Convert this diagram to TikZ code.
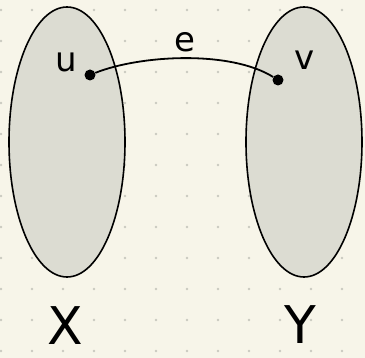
\documentclass[tikz,border=0pt]{standalone}
\usepackage{fontspec}
\setmainfont{DejaVu Sans}
\usetikzlibrary{shapes.geometric}
\definecolor{paper}{HTML}{F7F5E9}
\definecolor{setfill}{HTML}{DCDCD2}
\definecolor{griddot}{HTML}{C9C9C0}
\tikzset{
  setshape/.style={ellipse, draw=black, fill=setfill, line width=1.6pt, minimum width=116pt, minimum height=270pt, inner sep=0pt},
  vert/.style={circle, fill=black, inner sep=0pt, minimum size=11pt},
  vlabel/.style={font=\fontsize{34}{34}\selectfont, inner sep=0pt},
  setlabel/.style={font=\fontsize{52}{52}\selectfont, inner sep=0pt},
}
\begin{document}
\begin{tikzpicture}[x=1pt,y=-1pt]
\useasboundingbox (0,0) rectangle (365,358);
\fill[paper] (0,0) rectangle (365,358);
\foreach \i in {0,...,11} {
  \foreach \j in {0,...,11} {
    \fill[griddot] (1+31*\i,10+31*\j) circle (1.4pt);
  }
}
\node[setshape] (X) at (67,142) {};
\node[setshape] (Y) at (304,142) {};
\node[vert] (u) at (90,75) {};
\node[vert] (v) at (278,80) {};
\draw[line width=1.8pt] (u) .. controls (140,55) and (230,50) .. (v);
\node[vlabel] (ul) at (66,62) {u};
\node[vlabel] (vl) at (305,60) {v};
\node[vlabel] (el) at (185,42) {e};
\node[setlabel] (Xl) at (65,326) {X};
\node[setlabel] (Yl) at (300,325) {Y};
\end{tikzpicture}
\end{document}
